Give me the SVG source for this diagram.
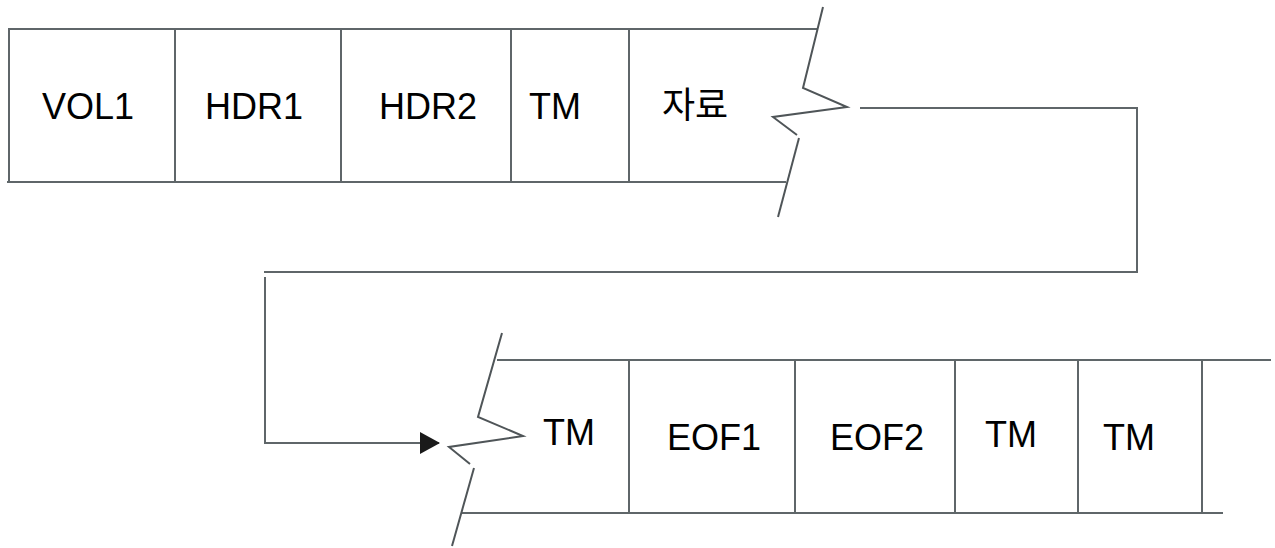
<svg xmlns="http://www.w3.org/2000/svg" width="1275" height="548" viewBox="0 0 1275 548">
<style>
.ln{stroke:#5f6669;stroke-width:2;fill:none;stroke-linecap:butt}
.br{stroke:#4f5558;stroke-width:2;fill:none;stroke-linejoin:miter}
.t{font-family:"Liberation Sans",Arial,"Noto Sans CJK KR",sans-serif;font-size:36px;fill:#000}
</style>
<defs>
<marker id="ah" markerWidth="20" markerHeight="22" refX="19" refY="11" orient="auto" markerUnits="userSpaceOnUse" viewBox="0 0 20 22">
<path d="M0,0 L20,11 L0,22 Z" fill="#1a1a1a"/>
</marker>
</defs>
<rect width="1275" height="548" fill="#fff"/>
<g id="tape-top">
<line class="ln" x1="8" y1="29" x2="818" y2="29"/>
<line class="ln" x1="7" y1="182" x2="786" y2="182"/>
<line class="ln" x1="9" y1="29" x2="9" y2="182"/>
<line class="ln" x1="175" y1="29" x2="175" y2="182"/>
<line class="ln" x1="341" y1="29" x2="341" y2="182"/>
<line class="ln" x1="511" y1="29" x2="511" y2="182"/>
<line class="ln" x1="629" y1="29" x2="629" y2="182"/>
<polyline class="br" points="823,7 803,88 847,107 773,117 797,135"/>
<line class="br" x1="799" y1="138" x2="778" y2="217"/>
</g>
<g id="n-vol1"><text class="t" x="42" y="119">VOL1</text></g>
<g id="n-hdr1"><text class="t" x="205" y="119">HDR1</text></g>
<g id="n-hdr2"><text class="t" x="379" y="119">HDR2</text></g>
<g id="n-tm1"><text class="t" x="529" y="119">TM</text></g>
<g id="n-data"><text class="t" x="662" y="118" font-size="33">자료</text></g>
<g id="tape-bottom">
<line class="ln" x1="497" y1="360" x2="1271" y2="360"/>
<line class="ln" x1="462" y1="513" x2="1223" y2="513"/>
<line class="ln" x1="629" y1="360" x2="629" y2="513"/>
<line class="ln" x1="795" y1="360" x2="795" y2="513"/>
<line class="ln" x1="955" y1="360" x2="955" y2="513"/>
<line class="ln" x1="1078" y1="360" x2="1078" y2="513"/>
<line class="ln" x1="1202" y1="360" x2="1202" y2="513"/>
<polyline class="br" points="502,333 478,417 523,436 449,447 470,464"/>
<line class="br" x1="474" y1="468" x2="452" y2="546"/>
</g>
<g id="n-tm2"><text class="t" x="543" y="445">TM</text></g>
<g id="n-eof1"><text class="t" x="667" y="450">EOF1</text></g>
<g id="n-eof2"><text class="t" x="830" y="450">EOF2</text></g>
<g id="n-tm3"><text class="t" x="985" y="447">TM</text></g>
<g id="n-tm4"><text class="t" x="1103" y="450">TM</text></g>
<g id="connectors">
<polyline class="ln" points="860,108 1137,108 1137,272 264,272"/>
<polyline class="ln" points="265,277 265,443 439,443" marker-end="url(#ah)" style="stroke-linejoin:miter"/>
</g>
</svg>
